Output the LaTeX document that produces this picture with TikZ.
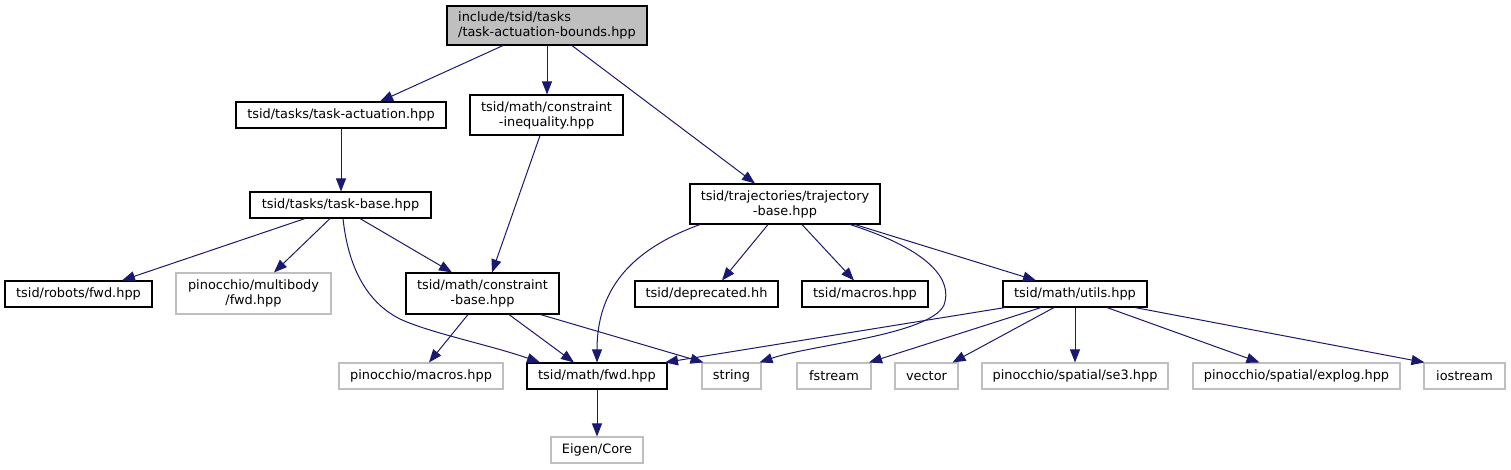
\documentclass[tikz,border=0pt]{standalone}
\usepackage{fontspec}
\setmainfont{DejaVu Sans}
\usetikzlibrary{arrows.meta}
\definecolor{edgeblue}{HTML}{191970}
\definecolor{greyb}{HTML}{BFBFBF}
\tikzset{
  box/.style={draw=black, line width=1.1pt, inner sep=0pt, align=center,
    font=\fontsize{12.9}{15}\selectfont, minimum height=26pt},
  extbox/.style={box, draw=greyb},
  rootbox/.style={box, fill=greyb, align=left},
  edge/.style={draw=edgeblue, line width=1pt, -{Triangle[length=13pt,width=10pt]}},
}
\begin{document}
\begin{tikzpicture}[x=1pt,y=-1pt]
\useasboundingbox (0,0) rectangle (1511,469);
% nodes
\node[rootbox, minimum width=200pt, minimum height=39pt] (root) at (547,25.5) {include/tsid/tasks\\/task-actuation-bounds.hpp};
\node[box, minimum width=210pt] (tact) at (341,115) {tsid/tasks/task-actuation.hpp};
\node[box, minimum width=153pt, minimum height=40pt] (cineq) at (546.5,115) {tsid/math/constraint\\-inequality.hpp};
\node[box, minimum width=181pt] (tbase) at (340.5,205) {tsid/tasks/task-base.hpp};
\node[box, minimum width=190pt, minimum height=40pt] (traj) at (785,204) {tsid/trajectories/trajectory\\-base.hpp};
\node[box, minimum width=147pt] (rfwd) at (78.5,294) {tsid/robots/fwd.hpp};
\node[extbox, minimum width=155pt, minimum height=41pt] (pmfwd) at (253.5,293.5) {pinocchio/multibody\\/fwd.hpp};
\node[box, minimum width=153pt, minimum height=41pt] (cbase) at (482.5,293.5) {tsid/math/constraint\\-base.hpp};
\node[box, minimum width=143pt] (depr) at (706.5,294) {tsid/deprecated.hh};
\node[box, minimum width=126pt] (tmacros) at (865,294) {tsid/macros.hpp};
\node[box, minimum width=144pt] (mutils) at (1075,294) {tsid/math/utils.hpp};
\node[extbox, minimum width=164pt] (pmacros) at (421,376) {pinocchio/macros.hpp};
\node[box, minimum width=140pt] (mfwd) at (597,376) {tsid/math/fwd.hpp};
\node[extbox, minimum width=59pt] (string) at (731.5,376) {string};
\node[extbox, minimum width=74pt] (fstream) at (834,376) {fstream};
\node[extbox, minimum width=63pt] (vector) at (926.5,376) {vector};
\node[extbox, minimum width=186pt] (se3) at (1075,376) {pinocchio/spatial/se3.hpp};
\node[extbox, minimum width=207pt] (explog) at (1296.5,376) {pinocchio/spatial/explog.hpp};
\node[extbox, minimum width=81pt] (iostream) at (1464.5,376) {iostream};
\node[extbox, minimum width=92pt] (eigen) at (597,450) {Eigen/Core};
% edges
\draw[edge] ([xshift=-44pt]root.south) -- ([xshift=39pt]tact.north);
\draw[edge] (root.south) -- (root.south |- cineq.north);
\draw[edge] ([xshift=25pt]root.south) -- ([xshift=-30pt]traj.north);
\draw[edge] (tact.south) -- (tact.south |- tbase.north);
\draw[edge] ([xshift=-6.5pt]cineq.south) -- ([xshift=9.5pt]cbase.north);
\draw[edge] ([xshift=-35.5pt]tbase.south) -- ([xshift=43.5pt]rfwd.north);
\draw[edge] ([xshift=-10.5pt]tbase.south) -- ([xshift=20.5pt]pmfwd.north);
\draw[edge] ([xshift=2.5pt]tbase.south) .. controls (349,275) and (372,305) .. (400,319) .. controls (430,333) and (490,345) .. ([xshift=-57pt]mfwd.north);
\draw[edge] ([xshift=19.5pt]tbase.south) -- ([xshift=-30.5pt]cbase.north);
\draw[edge] ([xshift=-85pt]traj.south) .. controls (630,250) and (597,290) .. (mfwd.north);
\draw[edge] ([xshift=-17pt]traj.south) -- ([xshift=15.5pt]depr.north);
\draw[edge] ([xshift=17pt]traj.south) -- ([xshift=-11pt]tmacros.north);
\draw[edge] ([xshift=65pt]traj.south) .. controls (930,250) and (953,280) .. (944,305) .. controls (930,335) and (810,345) .. ([xshift=28pt]string.north);
\draw[edge] ([xshift=70pt]traj.south) -- ([xshift=-39pt]mutils.north);
\draw[edge] ([xshift=-14.5pt]cbase.south) -- ([xshift=8pt]pmacros.north);
\draw[edge] ([xshift=26.5pt]cbase.south) -- ([xshift=-23pt]mfwd.north);
\draw[edge] ([xshift=58pt]cbase.south) -- ([xshift=-28pt]string.north);
\draw[edge] (mfwd.south) -- (eigen.north);
\draw[edge] ([xshift=-70pt]mutils.south) -- ([xshift=68pt]mfwd.north);
\draw[edge] ([xshift=-34pt]mutils.south) -- ([xshift=35pt]fstream.north);
\draw[edge] ([xshift=-21pt]mutils.south) -- ([xshift=26pt]vector.north);
\draw[edge] (mutils.south) -- (se3.north);
\draw[edge] ([xshift=32pt]mutils.south) -- ([xshift=-37pt]explog.north);
\draw[edge] ([xshift=60pt]mutils.south) -- ([xshift=-40pt]iostream.north);
\end{tikzpicture}
\end{document}
